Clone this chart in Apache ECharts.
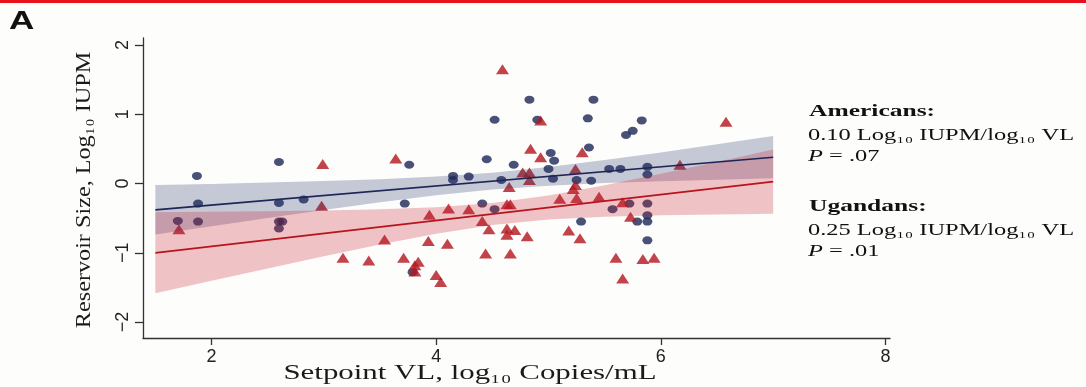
<!DOCTYPE html>
<html>
<head>
<meta charset="utf-8">
<script src="https://cdn.jsdelivr.net/npm/echarts@6/dist/echarts.min.js"></script>
<style>
html,body{margin:0;padding:0;background:#fdfdfb;}
#chart{width:1086px;height:387px;}
</style>
</head>
<body>
<div id="chart"></div>
<script>
// ---- Data ----
const xTicks = [2, 4, 6, 8];
const yTicks = [-2, -1, 0, 1, 2];

// Americans (navy circles)
const usX = [1.87,2.60,4.83,5.40,4.52,4.90,5.35,5.69,5.75,5.83,5.36,5.02,3.76,4.45,5.05,4.69,5.00,5.54,5.64,4.15,4.15,4.29,4.58,5.04,5.25,5.38,5.88,5.88,1.88,2.60,2.82,1.70,1.88,2.60,2.63,2.60,3.72,4.41,4.52,5.57,5.72,5.88,5.88,5.79,5.88,5.88,5.29,3.79];
const usY = [0.11,0.31,1.21,1.21,0.92,0.92,0.94,0.70,0.76,0.91,0.52,0.44,0.27,0.35,0.33,0.27,0.21,0.21,0.21,0.11,0.05,0.10,0.05,0.07,0.05,0.04,0.24,0.13,-0.29,-0.28,-0.23,-0.54,-0.55,-0.55,-0.55,-0.65,-0.29,-0.29,-0.37,-0.37,-0.29,-0.29,-0.46,-0.55,-0.55,-0.82,-0.55,-1.28];

// Ugandans (red triangles)
const ugX = [2.99,4.59,4.93,4.84,5.30,3.64,4.93,5.24,4.77,4.83,4.83,4.65,5.24,5.22,6.58,6.17,2.98,1.71,3.54,3.17,3.40,5.10,5.25,5.45,5.66,3.94,4.11,4.29,4.66,4.63,4.41,4.47,4.63,4.70,4.63,4.81,5.18,5.28,3.93,4.10,3.71,3.84,3.81,3.81,4.00,4.04,4.44,4.66,5.60,5.66,5.73,5.84,5.94];
const ugY = [0.28,1.65,0.91,0.50,0.45,0.36,0.38,0.21,0.16,0.16,0.05,-0.05,-0.02,-0.08,0.89,0.27,-0.32,-0.66,-0.81,-1.07,-1.11,-0.22,-0.21,-0.19,-0.27,-0.45,-0.36,-0.37,-0.30,-0.30,-0.54,-0.66,-0.65,-0.67,-0.74,-0.76,-0.68,-0.79,-0.83,-0.87,-1.07,-1.13,-1.18,-1.27,-1.32,-1.42,-1.01,-1.01,-1.07,-1.37,-0.48,-1.09,-1.07];

// Fitted lines (end points)
const fitX = [1.5, 7.0];
const usFitY = [-0.38, 0.379];
const ugFitY = [-1.0, 0.026];

// Confidence bands
const bandX = [1.5,2.0,2.5,3.0,3.5,4.0,4.5,5.0,5.5,6.0,6.5,7.0];
const usHi = [-0.023,-0.006,0.013,0.035,0.062,0.100,0.156,0.238,0.338,0.449,0.565,0.684];
const usLo = [-0.737,-0.616,-0.497,-0.381,-0.270,-0.170,-0.088,-0.032,0.006,0.033,0.055,0.074];
const ugHi = [-0.415,-0.409,-0.399,-0.390,-0.372,-0.342,-0.281,-0.173,-0.027,0.140,0.312,0.490];
const ugLo = [-1.585,-1.405,-1.227,-1.050,-0.882,-0.726,-0.599,-0.521,-0.481,-0.460,-0.446,-0.438];

// Annotation texts
const panelLabel = 'A';
const xTitle = 'Setpoint VL, log\u2081\u2080 Copies/mL';
const yTitle = 'Reservoir Size, Log\u2081\u2080 IUPM';
const groups = [
  {name: 'Americans:', slope: '0.10 Log\u2081\u2080 IUPM/log\u2081\u2080 VL', p: '.07'},
  {name: 'Ugandans:', slope: '0.25 Log\u2081\u2080 IUPM/log\u2081\u2080 VL', p: '.01'}
];

// ---- Build chart ----
const NAVY = '#1d2656';
const RED = '#b3151f';
const SERIF = '"Liberation Serif","DejaVu Serif",serif';
const SANS = '"Liberation Sans","DejaVu Sans",sans-serif';

function zip(a, b) { return a.map((v, i) => [v, b[i]]); }

function band(xs, lo, hi, color, blend) {
  return {
    type: 'custom', z: 3, silent: true,
    data: [[xs[0], lo[0]]],
    renderItem: function (params, api) {
      const pts = [];
      for (let i = 0; i < xs.length; i++) pts.push(api.coord([xs[i], hi[i]]));
      for (let i = xs.length - 1; i >= 0; i--) pts.push(api.coord([xs[i], lo[i]]));
      const style = {fill: color};
      if (blend) style.blend = blend;
      return {type: 'polygon', shape: {points: pts}, style: style};
    }
  };
}

const graphics = [
  {type: 'rect', left: 0, top: 0, shape: {x: 0, y: 0, width: 1086, height: 3}, style: {fill: '#e8101a'}},
  {type: 'text', x: 9, y: 22, scaleX: 1.35,
   style: {text: panelLabel, fontSize: 26, fontWeight: 'bold', fontFamily: SANS, fill: '#111', align: 'left', verticalAlign: 'middle'}},
  {type: 'text', x: 470, y: 373, scaleX: 1.47,
   style: {text: xTitle, fontSize: 21, fontFamily: SERIF, fill: '#1a1a1a', align: 'center', verticalAlign: 'middle'}},
  {type: 'text', x: 84, y: 190, rotation: Math.PI / 2, scaleX: 1.1,
   style: {text: yTitle, fontSize: 22, fontFamily: SERIF, fill: '#1a1a1a', align: 'center', verticalAlign: 'middle'}}
];
const groupY = [112, 207];
groups.forEach((g, i) => {
  const y0 = groupY[i];
  graphics.push({type: 'text', x: 809, y: y0, scaleX: 1.5,
    style: {text: g.name, fontSize: 17, fontWeight: 'bold', fontFamily: SERIF, fill: '#111', align: 'left', verticalAlign: 'middle'}});
  graphics.push({type: 'text', x: 808, y: y0 + 24, scaleX: 1.48,
    style: {text: g.slope, fontSize: 16.5, fontFamily: SERIF, fill: '#111', align: 'left', verticalAlign: 'middle'}});
  graphics.push({type: 'text', x: 808, y: y0 + 45, scaleX: 1.48,
    style: {text: '{i|P} = ' + g.p, fontSize: 16.5, fontFamily: SERIF, fill: '#111', align: 'left', verticalAlign: 'middle',
      rich: {i: {fontStyle: 'italic', fontSize: 16.5, fontFamily: SERIF, fill: '#111'}}}});
});

const chart = echarts.init(document.getElementById('chart'), null, {renderer: 'canvas'});
chart.setOption({
  backgroundColor: '#fdfdfb',
  animation: false,
  grid: {left: 143, right: 196, top: 38, bottom: 49},
  xAxis: {
    type: 'value', min: 1.39, max: 8.04,
    splitLine: {show: false},
    axisLine: {show: true, onZero: false, lineStyle: {color: '#333', width: 1.3}},
    axisTick: {show: true, length: 7, customValues: xTicks, lineStyle: {color: '#333', width: 1.3}},
    axisLabel: {customValues: xTicks, fontSize: 18, fontFamily: SANS, color: '#222', margin: 10}
  },
  yAxis: {
    type: 'value', min: -2.23, max: 2.1,
    splitLine: {show: false},
    axisLine: {show: true, onZero: false, lineStyle: {color: '#333', width: 1.3}},
    axisTick: {show: true, length: 8, customValues: yTicks, lineStyle: {color: '#333', width: 1.3}},
    axisLabel: {customValues: yTicks, rotate: 90, fontSize: 18, fontFamily: SANS, color: '#222', margin: 11,
      formatter: v => String(v).replace('-', '\u2212')}
  },
  series: [
    {type: 'scatter', z: 2, symbol: 'circle', symbolSize: [10, 8], itemStyle: {color: NAVY}, data: zip(usX, usY)},
    {type: 'scatter', z: 2, symbol: 'triangle', symbolSize: [13, 10], itemStyle: {color: RED}, data: zip(ugX, ugY)},
    band(bandX, usLo, usHi, 'rgba(40,52,105,0.26)'),
    band(bandX, ugLo, ugHi, 'rgba(200,28,45,0.26)', 'multiply'),
    {type: 'line', z: 4, showSymbol: false, symbol: 'none', lineStyle: {color: NAVY, width: 1.7}, data: zip(fitX, usFitY)},
    {type: 'line', z: 4, showSymbol: false, symbol: 'none', lineStyle: {color: '#b8141e', width: 1.8}, data: zip(fitX, ugFitY)}
  ],
  graphic: graphics
});
</script>
</body>
</html>
